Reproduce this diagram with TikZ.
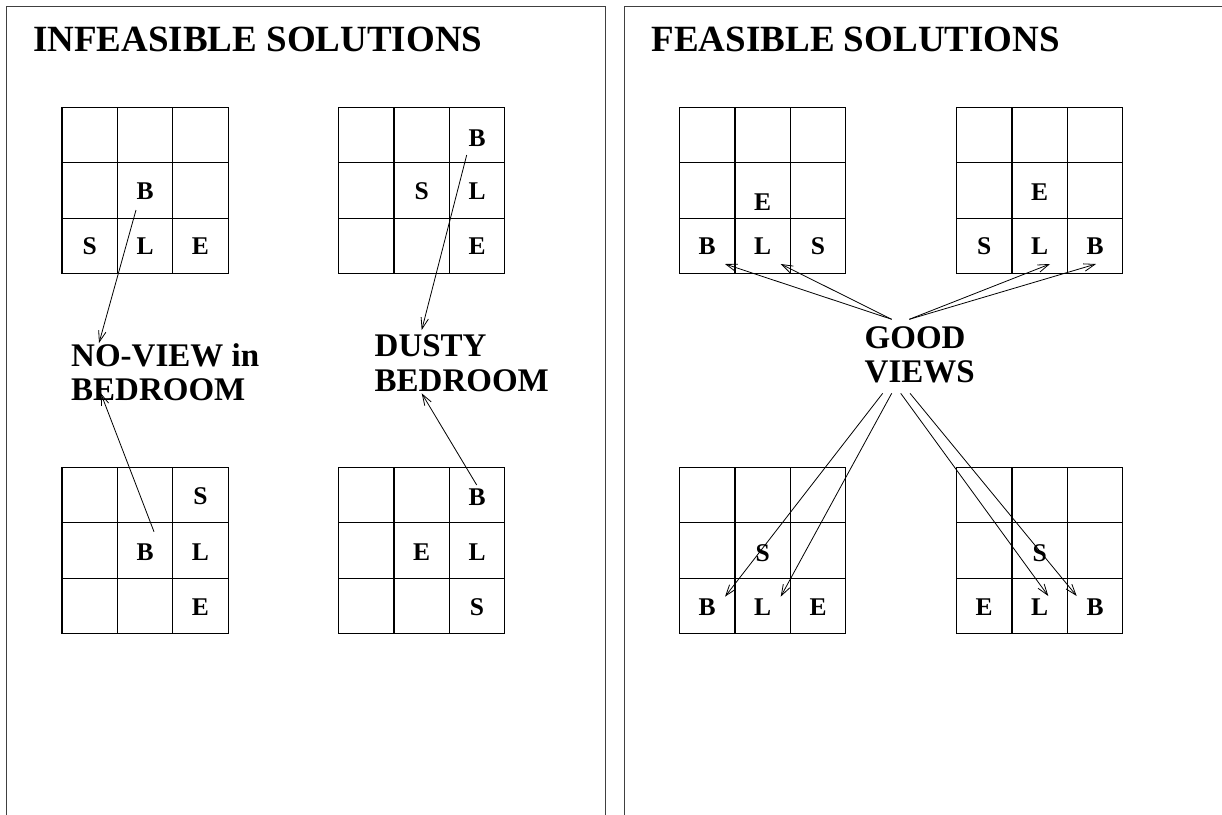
\documentclass[tikz,border=0pt]{standalone}
\usepackage{fontspec}
\setmainfont{Liberation Serif}
\usetikzlibrary{arrows.meta}
\newcommand{\cellsz}{55.4}
\newcommand{\drawgrid}[2]{%
  \foreach \k in {0,1,2,3}{
    \draw[gridline] ({#1+\k*\cellsz},#2) -- ({#1+\k*\cellsz},{#2+3*\cellsz});
    \draw[gridline] (#1,{#2+\k*\cellsz}) -- ({#1+3*\cellsz},{#2+\k*\cellsz});
  }}
\tikzset{
  gridline/.style={line width=1.2pt, black},
  panel/.style={line width=1pt, black!75},
  title/.style={anchor=base west, inner sep=0pt, font=\fontsize{37}{40}\selectfont\bfseries},
  lbl/.style={anchor=north west, inner sep=0pt, align=left, font=\fontsize{33}{34.5}\selectfont\bfseries},
  cellletter/.style={inner sep=0pt, font=\fontsize{25.5}{27}\selectfont\bfseries},
  arr/.style={line width=0.8pt, -{Straight Barb[length=11pt,width=7.5pt,line width=0.8pt]}},
}
\begin{document}
\begin{tikzpicture}[x=1pt,y=-1pt]
\useasboundingbox (0,0) rectangle (1222,814);
% panels
\draw[panel] (6,820) -- (6,6) -- (605.5,6) -- (605.5,820);
\draw[panel] (624.5,820) -- (624.5,6) -- (1230,6);
\node[title] (t1) at (33,51.5) {INFEASIBLE SOLUTIONS};
\node[title] (t2) at (651.5,51.5) {FEASIBLE SOLUTIONS};
% grids
\drawgrid{62}{107.3}
\drawgrid{338.5}{107.3}
\drawgrid{62}{467.3}
\drawgrid{338.5}{467.3}
\drawgrid{679.5}{107.3}
\drawgrid{956.5}{107.3}
\drawgrid{679.5}{467.3}
\drawgrid{956.5}{467.3}
% grid 1
\node[cellletter] (g1b) at (145.1,191) {B};
\node[cellletter] (g1s) at (89.7,246.5) {S};
\node[cellletter] (g1l) at (145.1,246.5) {L};
\node[cellletter] (g1e) at (200.5,246.5) {E};
% grid 2
\node[cellletter] (g2b) at (477,138) {B};
\node[cellletter] (g2s) at (421.6,191) {S};
\node[cellletter] (g2l) at (477,191) {L};
\node[cellletter] (g2e) at (477,246.5) {E};
% grid 3
\node[cellletter] (g3s) at (200.5,496) {S};
\node[cellletter] (g3b) at (145.1,552) {B};
\node[cellletter] (g3l) at (200.5,552) {L};
\node[cellletter] (g3e) at (200.5,607) {E};
% grid 4
\node[cellletter] (g4b) at (477,497) {B};
\node[cellletter] (g4e) at (421.6,552) {E};
\node[cellletter] (g4l) at (477,552) {L};
\node[cellletter] (g4s) at (477,607) {S};
% grid 5
\node[cellletter] (g5e) at (762.6,202) {E};
\node[cellletter] (g5b) at (707.2,246.5) {B};
\node[cellletter] (g5l) at (762.6,246.5) {L};
\node[cellletter] (g5s) at (818,246.5) {S};
% grid 6
\node[cellletter] (g6e) at (1039.6,192.5) {E};
\node[cellletter] (g6s) at (984.2,246.5) {S};
\node[cellletter] (g6l) at (1039.6,246.5) {L};
\node[cellletter] (g6b) at (1095,246.5) {B};
% grid 7
\node[cellletter] (g7s) at (762.6,553) {S};
\node[cellletter] (g7b) at (707.2,607) {B};
\node[cellletter] (g7l) at (762.6,607) {L};
\node[cellletter] (g7e) at (818,607) {E};
% grid 8
\node[cellletter] (g8s) at (1039.6,553) {S};
\node[cellletter] (g8e) at (984.2,607) {E};
\node[cellletter] (g8l) at (1039.6,607) {L};
\node[cellletter] (g8b) at (1095,607) {B};
% labels
\node[lbl] (noview) at (71,343) {NO-VIEW in\\BEDROOM};
\node[lbl] (dusty) at (374.5,334.5) {DUSTY\\BEDROOM};
\node[lbl] (good) at (864.5,326) {GOOD\\VIEWS};
% arrow end points
\coordinate (a1s) at (136,210);   \coordinate (a1t) at (99,343);
\coordinate (a2s) at (154,531.7); \coordinate (a2t) at (100.7,393);
\coordinate (a3s) at (466.7,155); \coordinate (a3t) at (421.7,330);
\coordinate (a4s) at (476.7,485); \coordinate (a4t) at (421.7,393.3);
\coordinate (gtl) at (891.7,319.3); \coordinate (gtr) at (909.3,319.3);
\coordinate (t5b) at (725,264); \coordinate (t5l) at (780.7,264);
\coordinate (t6l) at (1050,264); \coordinate (t6b) at (1096,264);
\coordinate (gb1) at (882.7,393.3); \coordinate (gb2) at (891.7,393.3);
\coordinate (gb3) at (900.7,393.3); \coordinate (gb4) at (910,393.3);
\coordinate (t7b) at (725,596.7); \coordinate (t7l) at (780.7,596.7);
\coordinate (t8l) at (1048.3,596); \coordinate (t8b) at (1076.7,596);
% arrows
\draw[arr] (a1s) -- (a1t);
\draw[arr] (a2s) -- (a2t);
\draw[arr] (a3s) -- (a3t);
\draw[arr] (a4s) -- (a4t);
\draw[arr] (gtl) -- (t5b);
\draw[arr] (gtl) -- (t5l);
\draw[arr] (gtr) -- (t6l);
\draw[arr] (gtr) -- (t6b);
\draw[arr] (gb1) -- (t7b);
\draw[arr] (gb2) -- (t7l);
\draw[arr] (gb3) -- (t8l);
\draw[arr] (gb4) -- (t8b);
\end{tikzpicture}
\end{document}
